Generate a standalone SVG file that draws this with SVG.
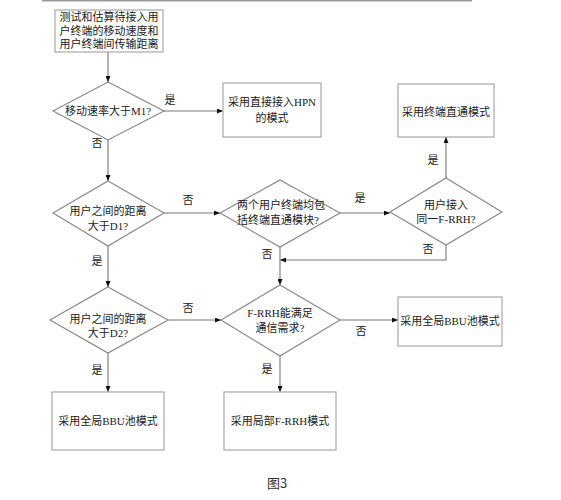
<svg xmlns="http://www.w3.org/2000/svg" width="561" height="500" viewBox="0 0 561 500">
<defs>
<marker id="ah" markerWidth="6" markerHeight="5" refX="6" refY="2.5" orient="auto" markerUnits="userSpaceOnUse">
<path d="M0,0 L6,2.5 L0,5 z" fill="#111"/>
</marker>
<style>
.box{fill:#fff;stroke:#a8a8a8;stroke-width:1.2}
.dia{fill:#fff;stroke:#858585;stroke-width:1.1}
.ln{fill:none;stroke:#777;stroke-width:1.1;marker-end:url(#ah)}
text{font-family:"Liberation Serif","Noto Sans CJK SC",serif;font-size:11px;fill:#222;text-anchor:middle}
.lb{font-size:11px}
</style>
</defs>
<rect width="561" height="500" fill="#fff"/>
<line x1="42" y1="0.8" x2="472" y2="0.8" stroke="#999" stroke-width="1.6"/>

<g id="connectors">
<path class="ln" d="M108,52 V82"/>
<path class="ln" d="M164,111 H223"/>
<path class="ln" d="M108,140 V181"/>
<path class="ln" d="M164,213 H220"/>
<path class="ln" d="M340,213 H390"/>
<path class="ln" d="M446,178 V137"/>
<path class="ln" d="M446,245 V260 H280"/>
<path class="ln" d="M280,247 V285"/>
<path class="ln" d="M108,246 V287"/>
<path class="ln" d="M168,320 H221"/>
<path class="ln" d="M340,320 H398"/>
<path class="ln" d="M280,356 V392"/>
<path class="ln" d="M108,353 V392"/>
</g>

<g id="labels">
<text class="lb" x="170" y="104">是</text>
<text class="lb" x="97" y="147">否</text>
<text class="lb" x="188" y="204">否</text>
<text class="lb" x="97" y="265">是</text>
<text class="lb" x="360" y="202">是</text>
<text class="lb" x="433" y="164">是</text>
<text class="lb" x="428" y="253">否</text>
<text class="lb" x="267" y="258">否</text>
<text class="lb" x="188" y="312">否</text>
<text class="lb" x="361" y="335">否</text>
<text class="lb" x="267" y="373">是</text>
<text class="lb" x="97" y="374">是</text>
</g>

<g id="start">
<rect class="box" x="55" y="10" width="108" height="42"/>
<text x="109" y="21">测试和估算待接入用</text>
<text x="109" y="34.5">户终端的移动速度和</text>
<text x="109" y="48">用户终端间传输距离</text>
</g>

<g id="d1">
<polygon class="dia" points="108,82 164,111 108,140 53,111"/>
<text x="108" y="115">移动速率大于M1?</text>
</g>

<g id="hpn">
<rect class="box" x="223" y="83" width="98" height="54"/>
<text x="272" y="106">采用直接接入HPN</text>
<text x="272" y="122">的模式</text>
</g>

<g id="d2">
<polygon class="dia" points="108,181 164,213 108,246 53,213"/>
<text x="108" y="215">用户之间的距离</text>
<text x="108" y="230">大于D1?</text>
</g>

<g id="d3">
<polygon class="dia" points="280,180 340,213 280,247 220,213"/>
<text x="281" y="209">两个用户终端均包</text>
<text x="278" y="224">括终端直通模块?</text>
</g>

<g id="d4">
<polygon class="dia" points="446,178 502,212 446,245 390,212"/>
<text x="446" y="209">用户接入</text>
<text x="446" y="223">同一F-RRH?</text>
</g>

<g id="direct">
<rect class="box" x="398" y="84" width="96" height="53"/>
<text x="446" y="116">采用终端直通模式</text>
</g>

<g id="d5">
<polygon class="dia" points="280,285 340,320 280,356 221,320"/>
<text x="280" y="317">F-RRH能满足</text>
<text x="280" y="332">通信需求?</text>
</g>

<g id="d6">
<polygon class="dia" points="108,287 168,320 108,353 50,320"/>
<text x="108" y="323">用户之间的距离</text>
<text x="108" y="337">大于D2?</text>
</g>

<g id="bbuRight">
<rect class="box" x="398" y="297" width="104" height="49"/>
<text x="450" y="325">采用全局BBU池模式</text>
</g>

<g id="bbuLeft">
<rect class="box" x="52" y="392" width="112" height="58"/>
<text x="108" y="425">采用全局BBU池模式</text>
</g>

<g id="local">
<rect class="box" x="224" y="392" width="112" height="58"/>
<text x="280" y="425">采用局部F-RRH模式</text>
</g>

<text x="277" y="488" style="font-family:'Noto Sans CJK SC','Liberation Sans',sans-serif;font-size:13px;fill:#333">图3</text>
</svg>
